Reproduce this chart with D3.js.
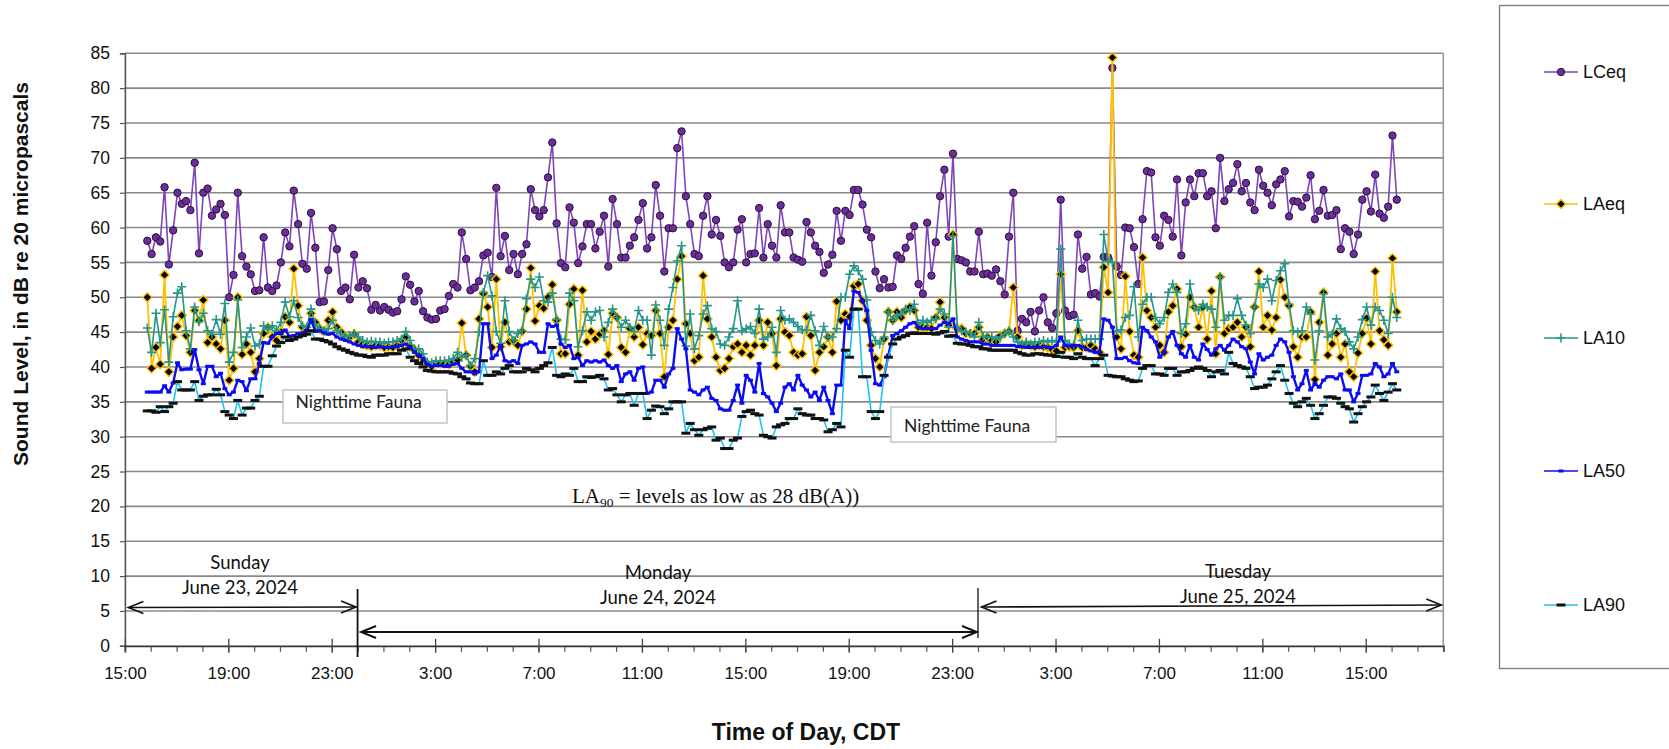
<!DOCTYPE html>
<html><head><meta charset="utf-8">
<script src="https://cdn.jsdelivr.net/npm/d3@7/dist/d3.min.js"></script>
<style>html,body{margin:0;padding:0;background:#fff}svg{display:block}</style>
</head><body>
<svg id="chart" width="1669" height="749"></svg>
<script>
// ---------- DATA (10-minute readings starting Sunday 23 June 2024, 15:52 CDT) ----------
const startTime = new Date(2024, 5, 23, 15, 52);
const stepMinutes = 10;
const seriesNames = ["LCeq", "LAeq", "LA10", "LA50", "LA90"];

const LCeq = [
58.1,56.2,58.6,58.0,65.8,54.7,59.6,65.0,63.4,63.8,
62.5,69.3,56.3,65.0,65.6,61.7,62.6,63.4,61.8,50.0,
53.2,65.0,55.9,54.4,53.3,50.9,51.0,58.6,51.4,50.9,
51.7,55.0,59.3,57.3,65.3,60.5,54.8,54.1,62.1,57.1,
49.3,49.4,53.9,59.9,56.9,50.9,51.4,49.7,56.1,51.4,
52.3,51.3,48.2,48.9,48.1,48.6,48.2,47.8,48.0,49.7,
53.0,51.8,49.4,50.9,48.0,47.1,46.8,46.9,48.1,48.3,
50.2,51.9,51.4,59.3,55.5,51.0,51.4,52.3,56.0,56.4,
52.9,65.7,55.9,58.8,53.9,56.2,53.3,56.2,57.6,65.5,
62.5,61.6,62.5,67.2,72.2,60.6,54.9,54.3,62.9,60.7,
54.9,57.3,60.5,60.5,57.0,59.4,61.7,54.4,64.1,60.5,
55.7,55.7,57.4,58.6,61.1,63.5,57.0,58.6,66.1,61.7,
53.7,59.9,59.9,71.4,73.8,64.5,60.5,56.2,55.9,61.7,
64.5,59.0,61.1,58.8,55.0,54.3,55.0,59.7,61.2,55.0,
56.2,56.3,62.8,55.7,60.5,57.4,55.7,63.2,59.3,59.3,
55.7,55.4,55.1,60.8,59.3,57.4,56.5,53.5,54.7,56.1,
62.4,58.1,62.4,61.8,65.4,65.4,63.3,59.7,58.6,53.7,
51.3,52.6,51.4,51.5,56.0,55.5,57.1,58.7,60.2,51.9,
50.5,60.7,53.1,57.9,64.5,68.3,58.7,70.6,55.5,55.3,
55.0,53.7,53.7,59.4,53.3,53.4,53.1,54.0,52.3,50.4,
58.7,65.0,45.2,46.9,46.4,47.9,45.1,48.1,50.0,46.4,
45.6,47.7,64.0,48.1,47.3,47.5,59.0,54.1,55.8,50.4,
50.6,50.1,55.8,55.7,82.9,54.4,53.2,60.0,59.9,57.2,
51.9,61.2,68.1,67.9,58.6,57.4,61.7,61.1,58.7,66.9,
56.0,63.6,66.9,64.5,67.8,67.8,64.5,65.2,59.9,70.0,
63.8,65.5,66.4,69.1,65.2,66.4,63.6,62.5,68.3,66.0,
65.0,63.2,66.2,66.9,68.1,61.6,63.8,63.7,63.0,64.3,
67.5,61.2,62.4,65.4,61.7,61.8,62.5,56.9,59.9,59.4,
56.2,59.0,64.0,65.2,62.3,67.6,62.0,61.4,63.0,73.2,64.0];

const LAeq = [
50.0,39.8,42.8,40.4,53.2,39.3,44.3,45.8,47.4,44.5,42.1,48.1,46.7,49.6,43.5,44.3,43.3,42.6,46.7,38.1,39.8,50.0,41.8,43.3,42.1,39.3,41.2,44.8,45.7,44.3,43.8,45.0,47.2,
46.4,54.1,48.8,45.7,45.2,47.7,46.4,45.5,45.1,46.7,47.9,45.7,45.0,44.3,44.3,44.7,43.6,43.3,43.1,42.9,43.1,43.1,42.8,42.9,42.8,43.1,43.8,44.3,42.9,42.5,41.7,40.7,40.5,40.1,
40.5,40.5,40.5,40.4,40.7,41.0,46.3,41.7,40.1,39.3,46.9,50.5,48.6,42.8,52.6,42.9,46.4,43.6,43.8,43.1,45.1,48.3,54.2,46.6,48.8,48.4,50.0,51.8,46.7,41.9,41.9,49.0,51.2,
41.7,51.0,43.6,45.1,44.0,44.7,45.2,41.8,47.7,47.1,42.8,42.1,45.5,44.3,45.7,43.2,44.8,44.5,48.1,44.8,38.6,45.7,46.7,52.6,55.9,46.2,44.8,40.9,41.4,53.1,46.9,44.3,41.4,39.5,
39.8,41.2,42.9,43.3,42.1,43.1,41.7,43.1,46.7,43.1,46.4,44.8,40.2,46.9,45.0,44.5,42.1,41.7,41.9,47.2,44.5,39.5,42.1,42.9,44.3,42.1,49.4,46.7,47.6,47.2,51.6,51.9,49.5,46.7,
43.1,41.2,40.0,44.0,47.9,46.7,47.9,47.1,48.1,48.6,48.1,45.7,45.7,45.7,45.5,47.1,49.3,47.1,46.0,59.0,45.5,45.5,44.8,44.8,44.8,45.7,44.0,44.3,43.8,43.6,44.5,44.8,45.1,
51.4,44.3,43.1,43.3,43.1,42.9,43.1,42.9,42.8,42.5,42.3,53.3,42.8,42.9,42.8,45.2,42.8,42.8,43.1,42.6,42.1,54.3,50.7,84.4,44.3,42.6,53.0,45.1,41.7,41.4,55.7,48.1,47.1,45.7,
43.1,42.1,47.9,48.8,51.2,42.9,44.7,50.0,48.6,45.7,48.6,44.0,50.9,41.9,52.9,44.8,45.5,45.7,46.4,44.3,45.7,42.9,48.6,53.7,45.7,47.4,45.3,47.1,52.5,50.0,48.8,42.9,41.4,44.3,
44.3,47.9,38.2,46.4,50.7,41.7,43.3,44.8,41.4,43.3,39.3,38.6,42.0,44.8,47.0,43.3,53.7,45.2,43.9,43.1,55.6,47.9];

const LA10 = [
45.6,42.1,47.7,43.5,48.2,40.7,47.2,50.6,51.5,45.2,42.6,48.6,46.5,47.7,45.2,44.7,46.8,44.7,49.1,40.7,42.1,49.6,42.8,44.3,45.6,43.0,43.3,45.9,45.4,45.9,45.2,46.4,49.3,
47.2,49.5,47.1,45.9,45.7,48.3,46.2,45.5,45.2,45.5,46.7,45.2,44.8,44.3,44.5,44.8,44.3,43.8,43.6,43.7,43.6,43.6,43.4,43.6,43.6,43.8,44.0,45.1,43.8,42.6,42.6,41.9,40.7,40.6,
40.9,40.9,40.9,41.0,41.2,42.1,41.4,41.7,40.2,41.2,45.0,50.7,53.1,50.2,45.1,43.4,49.5,45.1,43.8,44.8,45.2,49.8,52.6,51.4,52.9,49.5,49.3,50.6,46.8,44.0,43.9,50.6,49.5,
42.9,45.2,47.9,46.7,47.9,48.1,44.3,46.4,48.3,47.1,45.7,46.7,45.7,45.1,48.1,46.7,46.7,41.7,48.9,46.7,43.1,48.3,51.4,55.2,57.4,43.0,47.6,42.6,44.5,47.6,48.8,45.5,45.1,43.3,
43.1,44.3,45.5,49.5,45.2,45.5,45.8,44.8,48.3,44.0,44.3,45.7,42.1,48.1,46.7,46.9,46.4,45.8,45.3,45.3,47.4,45.2,43.1,45.8,44.3,44.3,45.5,50.0,50.0,53.3,54.5,53.8,52.6,49.6,
45.0,43.8,43.3,44.3,47.9,46.7,47.4,47.6,48.3,48.1,49.0,46.2,46.7,46.4,46.7,46.9,48.3,47.6,45.7,58.8,45.7,45.2,45.0,44.8,44.3,46.4,44.4,44.3,44.3,44.0,44.3,44.8,45.2,
44.3,43.6,43.3,43.6,43.3,43.6,43.6,43.8,43.6,43.8,43.6,56.9,43.8,43.3,43.1,46.7,43.8,44.0,44.0,44.0,44.0,59.0,55.2,55.0,45.2,45.3,47.1,47.4,51.5,44.3,49.0,50.0,50.0,47.1,
46.2,47.1,50.7,51.9,50.7,44.8,46.2,51.9,48.6,48.1,49.0,48.6,48.3,45.7,52.9,46.7,47.4,47.4,49.8,47.4,46.0,44.8,48.6,51.9,51.4,52.6,49.5,52.4,53.8,54.8,49.0,45.2,45.0,45.2,
48.6,47.6,41.0,45.2,50.5,44.3,44.7,46.9,45.5,45.1,43.6,42.6,44.3,46.8,48.6,46.0,48.6,48.1,46.7,44.8,50.0,47.1];

const LA50 = [
36.4,36.4,36.4,36.4,37.3,36.4,37.7,40.6,39.6,39.7,39.7,42.5,39.6,37.6,40.1,40.1,38.6,39.1,36.9,36.0,36.4,38.1,37.9,36.6,38.3,38.3,40.5,43.5,43.4,44.3,44.8,44.8,45.3,
44.4,44.5,44.8,44.9,45.1,46.8,45.1,45.2,44.9,44.7,44.8,44.3,44.0,43.8,43.6,43.3,43.1,42.9,42.9,42.9,42.8,42.9,42.8,42.8,42.9,42.9,43.1,43.3,42.8,42.1,41.7,41.2,40.4,40.1,
40.2,40.2,40.1,40.1,40.4,40.5,39.8,39.3,39.3,39.0,39.3,46.2,46.2,41.2,41.7,43.1,40.9,40.7,40.9,40.5,43.1,43.3,43.6,43.3,42.1,42.1,46.2,45.8,46.0,43.3,42.8,43.1,41.2,
41.4,40.2,40.9,40.7,40.9,40.7,41.0,40.2,39.8,40.2,37.9,39.0,39.3,38.1,39.8,40.0,36.2,36.4,38.1,38.1,37.1,39.0,39.8,45.5,44.0,42.6,36.7,36.4,36.0,36.7,37.1,35.5,35.2,34.0,
33.8,33.8,35.2,37.4,34.8,38.8,38.1,36.4,40.5,36.2,35.7,34.8,33.6,34.8,37.1,37.6,36.7,38.8,37.4,36.7,35.7,36.4,35.2,37.1,35.2,33.3,37.4,37.4,46.7,45.5,50.9,50.7,49.5,48.1,
42.4,37.6,37.4,38.6,41.7,44.5,44.8,45.2,45.7,46.2,46.4,45.7,45.5,45.5,45.5,45.5,46.0,46.4,46.2,46.9,44.3,44.0,43.8,43.6,43.6,43.6,43.3,43.3,43.1,43.1,43.1,43.1,43.1,
43.1,42.9,42.9,42.8,42.8,42.8,42.8,42.9,42.8,42.8,43.1,44.3,43.1,43.0,43.1,43.1,42.9,42.5,42.3,42.1,42.1,46.9,46.7,45.7,41.2,41.2,41.4,40.9,40.6,40.5,45.7,45.2,44.3,43.6,
41.4,42.1,44.3,45.1,43.1,41.9,41.4,43.1,41.4,41.0,43.3,42.5,41.7,42.6,43.1,42.4,43.1,44.0,43.6,42.9,42.6,40.7,39.0,41.9,41.0,41.4,41.7,43.1,44.0,43.6,42.1,38.6,36.7,37.6,
39.5,36.7,37.6,37.1,38.1,38.6,38.6,38.3,39.0,36.7,36.7,35.0,36.2,38.8,38.8,39.0,40.5,40.0,38.6,39.0,40.5,39.3];

const LA90 = [
33.7,33.7,33.5,34.3,33.6,34.3,34.8,37.9,36.7,36.7,36.7,37.9,35.2,35.8,36.0,36.0,36.8,36.0,33.6,33.1,32.6,35.2,33.1,34.1,34.1,35.2,35.8,40.1,40.1,41.6,43.0,43.5,44.3,
43.8,44.0,44.3,44.5,44.7,45.2,44.0,44.0,43.8,43.6,43.3,42.9,42.6,42.4,42.1,41.9,41.7,41.7,41.5,41.4,41.7,41.7,41.7,41.9,41.9,41.9,42.4,42.6,41.4,40.9,40.5,40.0,39.5,39.4,
39.3,39.3,39.3,39.3,39.1,39.0,38.6,38.3,37.7,37.6,37.6,40.9,38.8,38.8,39.3,39.0,39.8,40.2,39.3,39.3,39.3,39.8,39.6,39.3,39.8,40.2,40.6,42.8,38.8,38.6,39.0,38.8,39.8,
37.9,37.9,38.6,38.5,38.6,38.8,38.3,36.7,36.9,36.0,35.0,36.0,36.2,34.5,36.2,36.2,32.6,33.8,34.4,34.3,33.3,34.0,35.0,35.0,35.0,30.5,31.9,31.0,30.2,31.0,31.2,31.4,29.5,29.8,
28.3,28.3,29.5,29.8,32.9,33.6,33.8,33.3,33.1,30.2,30.0,29.8,31.4,31.7,31.9,32.6,32.6,34.0,33.3,33.1,33.1,32.6,32.6,32.4,30.7,31.0,31.9,31.4,42.4,41.4,48.3,48.3,38.6,38.6,
33.6,32.6,33.6,38.8,41.4,43.3,44.0,44.3,44.5,44.8,44.9,44.8,44.8,44.8,44.8,44.7,44.9,45.1,44.4,44.5,43.4,43.3,43.3,43.1,42.9,42.9,42.6,42.6,42.4,42.4,42.4,42.4,42.4,
42.4,42.1,41.9,41.7,41.7,41.9,41.9,41.8,41.7,41.7,41.5,42.1,41.4,41.4,41.2,41.9,41.4,41.2,41.2,40.2,41.2,41.7,38.8,38.7,38.6,38.6,38.3,38.1,37.9,38.0,39.8,40.2,40.2,39.0,
39.0,38.8,39.8,39.8,38.8,39.3,39.3,39.5,39.8,40.0,39.8,39.5,38.6,39.3,39.5,39.0,42.1,40.5,40.2,40.0,39.8,38.6,36.9,37.1,37.1,37.4,38.3,39.3,40.2,38.1,36.2,34.8,34.3,35.0,
35.5,34.5,32.6,33.3,34.5,35.7,35.7,35.5,34.8,34.3,34.0,32.1,33.3,34.3,35.0,35.7,37.4,36.2,35.2,36.4,37.6,36.7];

const yTickValues = [0,5,10,15,20,25,30,35,40,45,50,55,60,65,70,75,80,85];
const xTickLabels = ["15:00","19:00","23:00","3:00","7:00","11:00","15:00","19:00","23:00","3:00","7:00","11:00","15:00"];
const dayLabels = [["Sunday","June 23, 2024"],["Monday","June 24, 2024"],["Tuesday","June 25, 2024"]];
const annotationTexts = ["Nighttime Fauna","Nighttime Fauna"];

// ---------- LAYOUT ----------
const svg = d3.select("#chart");
const P = {l:124.9, r:1443.3, t:53.3, b:645.8};
const t0 = new Date(2024,5,23,15,0), t1 = new Date(2024,5,25,18,0);
const x = d3.scaleTime().domain([t0,t1]).range([P.l,P.r]);
const y = d3.scaleLinear().domain([0,85]).range([P.b,P.t]);
const times = LCeq.map((_,i)=>new Date(startTime.getTime()+i*stepMinutes*60000));
const SANS = "'Liberation Sans', Arial, sans-serif";

// gridlines
svg.append("g").selectAll("line").data(yTickValues.filter(v=>v>0)).join("line")
  .attr("x1",P.l).attr("x2",P.r).attr("y1",d=>y(d)).attr("y2",d=>y(d))
  .attr("stroke","#8a8a8a").attr("stroke-width",1.6);
// right border
svg.append("line").attr("x1",P.r).attr("x2",P.r).attr("y1",P.t).attr("y2",P.b)
  .attr("stroke","#9a9a9a").attr("stroke-width",1.6);

// y axis
const yAx = svg.append("g").attr("transform",`translate(${P.l},0)`)
  .call(d3.axisLeft(y).tickValues(yTickValues).tickSize(5).tickPadding(10).tickFormat(d3.format("d")));
yAx.select(".domain").attr("stroke","#555").attr("stroke-width",1.6);
yAx.selectAll(".tick line").attr("stroke","#555").attr("stroke-width",1.2);
yAx.selectAll("text").attr("font-family",SANS).attr("font-size",17.5).attr("fill","#111");

// x axis: hourly minor ticks
const xMinor = svg.append("g").attr("transform",`translate(0,${P.b})`)
  .call(d3.axisBottom(x).ticks(d3.timeHour.every(1)).tickSize(6).tickFormat(""));
xMinor.select(".domain").attr("stroke","#333").attr("stroke-width",1.8);
xMinor.selectAll(".tick line").attr("stroke","#555").attr("stroke-width",1.2);
// major labelled ticks every 4 h
const labelDates = xTickLabels.map((_,i)=>d3.timeHour.offset(t0,4*i));
const xMaj = svg.append("g").attr("transform",`translate(0,${P.b})`)
  .call(d3.axisBottom(x).tickValues(labelDates).tickSize(7).tickPadding(14)
    .tickFormat((d,i)=>xTickLabels[i]));
xMaj.select(".domain").remove();
xMaj.selectAll(".tick line").attr("y1",-7).attr("stroke","#444").attr("stroke-width",1.3);
xMaj.selectAll("text").attr("font-family",SANS).attr("font-size",17).attr("fill","#111");

// axis titles
svg.append("text").attr("transform","translate(20,274) rotate(-90)")
  .attr("text-anchor","middle").attr("dominant-baseline","central")
  .attr("font-family",SANS).attr("font-weight","bold").attr("font-size",21).attr("fill","#111")
  .text("Sound Level, in dB re 20 micropascals");
svg.append("text").attr("x",806).attr("y",732).attr("text-anchor","middle").attr("dominant-baseline","central")
  .attr("font-family",SANS).attr("font-weight","bold").attr("font-size",23).attr("fill","#111")
  .text("Time of Day, CDT");

// ---------- SERIES ----------
const styles = {
  LCeq:{color:"#7E45B8", w:1.6},
  LAeq:{color:"#FFC000", w:1.8},
  LA10:{color:"#24968C", w:1.6},
  LA50:{color:"#0C0CF2", w:2.4},
  LA90:{color:"#1EC3F0", w:1.6}
};
function drawMarker(sel, name){
  if(name==="LCeq") sel.append("circle").attr("r",3.7).attr("fill","#6B2E9A").attr("stroke","#2A1038").attr("stroke-width",1);
  else if(name==="LAeq") sel.append("path").attr("d","M0,-4.6L4.6,0L0,4.6L-4.6,0Z").attr("fill","#000").attr("stroke","#FFC000").attr("stroke-width",1.4);
  else if(name==="LA10") sel.append("path").attr("d","M-4.5,0H4.5M0,-4.5V4.5").attr("stroke","#24968C").attr("stroke-width",1.6).attr("fill","none");
  else if(name==="LA50") sel.append("rect").attr("x",-2.5).attr("y",-1.5).attr("width",5).attr("height",3).attr("fill","#0C0CF2");
  else sel.append("rect").attr("x",-4.5).attr("y",-1.5).attr("width",9).attr("height",3).attr("fill","#111");
}
const seriesData = {LCeq, LAeq, LA10, LA50, LA90};
const line = d3.line().x((d,i)=>x(times[i])).y(d=>y(d));
seriesNames.forEach(name=>{
  const vals = seriesData[name], st = styles[name];
  const g = svg.append("g");
  g.append("path").attr("d",line(vals)).attr("fill","none").attr("stroke",st.color)
    .attr("stroke-width",st.w).attr("stroke-linejoin","round");
  g.selectAll("g.m").data(vals).join("g").attr("class","m")
    .attr("transform",(d,i)=>`translate(${x(times[i])},${y(d)})`)
    .each(function(){ drawMarker(d3.select(this), name); });
});

// ---------- ANNOTATIONS ----------
const LAT = "Lato, 'Open Sans', sans-serif";
const boxes = [{x:283,y:390,w:164,h:33,tx:295.5,ty:408},{x:891,y:407,w:165,h:35,tx:904,ty:432}];
boxes.forEach((b,k)=>{
  svg.append("rect").attr("x",b.x).attr("y",b.y).attr("width",b.w).attr("height",b.h)
    .attr("fill","#fff").attr("stroke","#c4c4c4").attr("stroke-width",1.5);
  svg.append("text").attr("x",b.tx).attr("y",b.ty).attr("font-family",LAT).attr("font-size",17.5)
    .attr("fill","#222").text(annotationTexts[k]);
});
const ann = svg.append("text").attr("x",572).attr("y",503).attr("font-family","'Liberation Serif','Times New Roman',serif")
  .attr("font-size",21).attr("fill","#111");
ann.append("tspan").text("LA");
ann.append("tspan").attr("font-size",13.5).attr("dy",4).text("90");
ann.append("tspan").attr("dy",-4).text(" = levels as low as 28 dB(A))");

// day labels
const dayPos = [{cx:240,y1:562,y2:587},{cx:658,y1:572,y2:597},{cx:1238,y1:571,y2:596}];
dayPos.forEach((p,k)=>{
  [p.y1,p.y2].forEach((yy,j)=>{
    svg.append("text").attr("x",p.cx).attr("y",yy).attr("text-anchor","middle").attr("dominant-baseline","central")
      .attr("font-family",LAT).attr("font-size",18.5).attr("fill","#111").text(dayLabels[k][j]);
  });
});
// arrows
function arrow(x1,y1,x2,y2,w){
  svg.append("line").attr("x1",x1).attr("y1",y1).attr("x2",x2).attr("y2",y2).attr("stroke","#111").attr("stroke-width",w);
  const head=(xa,ya,dir)=>svg.append("path")
    .attr("d",`M${xa+dir*15},${ya-6}L${xa},${ya}L${xa+dir*15},${ya+6}`)
    .attr("fill","none").attr("stroke","#111").attr("stroke-width",w);
  head(x1,y1,1); head(x2,y2,-1);
}
const mid1 = x(new Date(2024,5,24,0,0)), mid2 = x(new Date(2024,5,25,0,0));
arrow(P.l+3.5, 607.5, mid1-1.5, 607, 1.6);
arrow(mid1+3.5, 632, mid2-1, 632, 1.9);
arrow(mid2+3.5, 607, P.r-2, 605, 1.6);
svg.append("line").attr("x1",mid1).attr("x2",mid1).attr("y1",589).attr("y2",657).attr("stroke","#111").attr("stroke-width",1.8);
svg.append("line").attr("x1",mid2).attr("x2",mid2).attr("y1",588).attr("y2",638).attr("stroke","#111").attr("stroke-width",1.3);

// ---------- LEGEND ----------
svg.append("rect").attr("x",1499.5).attr("y",5.5).attr("width",200).attr("height",663)
  .attr("fill","#fff").attr("stroke","#7f7f7f").attr("stroke-width",1.4);
const legY = [72,204,338,471,605];
seriesNames.forEach((name,k)=>{
  const g = svg.append("g").attr("transform",`translate(0,${legY[k]})`);
  g.append("line").attr("x1",1544).attr("x2",1578).attr("y1",0).attr("y2",0).attr("stroke",styles[name].color).attr("stroke-width",1.6);
  const m = g.append("g").attr("transform","translate(1561,0)");
  drawMarker(m, name);
  g.append("text").attr("x",1583).attr("y",0).attr("dominant-baseline","central")
    .attr("font-family",SANS).attr("font-size",18).attr("fill","#111").text(name);
});
</script>
</body></html>
